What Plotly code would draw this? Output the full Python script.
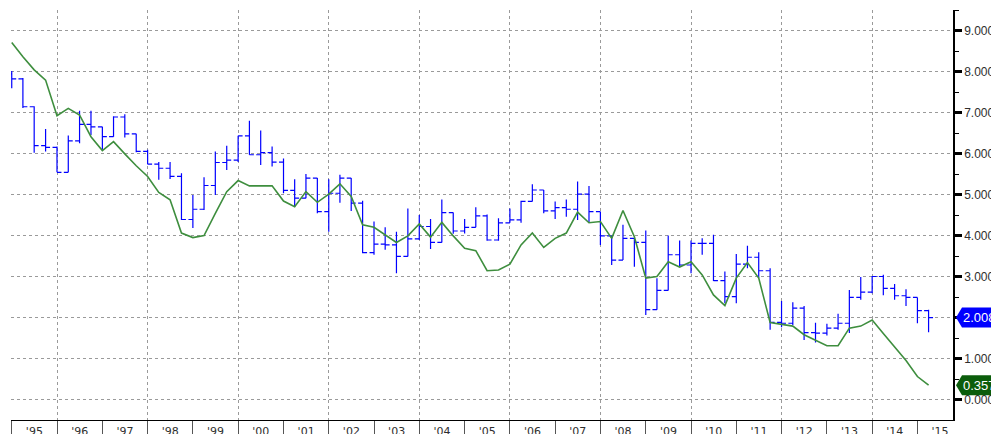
import plotly.graph_objects as go

# ---------------- data ----------------
quarters = [f"{1995 + i // 4}-{3 * (i % 4) + 1:02d}-01" for i in range(82)]

open_ = [7.95, 7.83, 7.15, 6.20, 6.16, 5.55, 6.32, 6.72, 6.66, 6.42,
         6.90, 6.49, 6.06, 5.75, 5.65, 5.45, 4.40, 4.65, 5.23, 5.79,
         5.85, 6.44, 5.98, 6.03, 5.80, 5.11, 4.92, 5.41, 4.59, 5.04,
         5.41, 4.80, 3.59, 3.80, 3.78, 3.50, 3.93, 4.23, 3.84, 4.57,
         4.12, 4.21, 4.49, 3.90, 4.32, 4.39, 4.84, 5.12, 4.61, 4.69,
         4.65, 5.02, 4.59, 4.00, 3.41, 3.94, 3.84, 2.20, 2.67, 3.54,
         3.29, 3.82, 3.82, 2.91, 2.52, 3.31, 3.48, 3.15, 1.89, 1.87,
         2.24, 1.64, 1.63, 1.75, 1.87, 2.50, 2.63, 3.01, 2.72, 2.54,
         2.50, 2.18]
high = [8.02, 7.85, 7.16, 6.61, 6.18, 6.45, 7.05, 7.05, 6.66, 6.92,
        6.97, 6.49, 6.10, 5.80, 5.80, 5.53, 5.00, 5.43, 6.06, 6.20,
        6.44, 6.81, 6.57, 6.18, 5.89, 5.38, 5.51, 5.41, 5.38, 5.49,
        5.41, 4.86, 4.35, 4.21, 4.10, 4.67, 4.51, 4.41, 4.89, 4.57,
        4.41, 4.70, 4.52, 4.43, 4.67, 4.86, 5.26, 5.12, 4.84, 4.89,
        5.33, 5.22, 4.59, 4.00, 4.27, 3.94, 4.13, 2.97, 4.01, 3.89,
        3.89, 3.94, 4.03, 3.13, 3.56, 3.76, 3.60, 3.21, 2.41, 2.38,
        2.29, 1.88, 1.86, 2.10, 2.68, 3.00, 3.02, 3.05, 2.83, 2.70,
        2.50, 2.20]
low = [7.60, 7.12, 6.03, 6.06, 5.55, 5.55, 6.26, 6.46, 6.10, 6.42,
       6.40, 6.04, 5.75, 5.37, 5.39, 4.39, 4.19, 4.63, 5.00, 5.61,
       5.80, 5.98, 5.73, 5.69, 5.04, 4.71, 4.92, 4.55, 4.10, 4.81,
       4.61, 3.58, 3.54, 3.66, 3.09, 3.50, 3.90, 3.68, 3.84, 4.05,
       4.06, 4.21, 3.88, 3.88, 4.32, 4.32, 4.84, 4.55, 4.41, 4.47,
       4.39, 4.32, 3.78, 3.29, 3.41, 3.25, 2.07, 2.20, 2.67, 3.25,
       3.09, 3.54, 2.90, 2.36, 2.36, 3.21, 2.97, 1.71, 1.77, 1.83,
       1.46, 1.40, 1.57, 1.71, 1.63, 2.44, 2.60, 2.55, 2.44, 2.29,
       1.87, 1.65]
close = [7.83, 7.15, 6.20, 6.16, 5.55, 6.32, 6.72, 6.66, 6.42, 6.90,
         6.49, 6.06, 5.75, 5.65, 5.45, 4.40, 4.65, 5.23, 5.79, 5.85,
         6.44, 5.98, 6.03, 5.80, 5.11, 4.92, 5.41, 4.59, 5.04, 5.41,
         4.80, 3.59, 3.80, 3.78, 3.50, 3.93, 4.23, 3.84, 4.57, 4.12,
         4.21, 4.49, 3.90, 4.32, 4.39, 4.84, 5.12, 4.61, 4.69, 4.65,
         5.02, 4.59, 4.00, 3.41, 3.94, 3.84, 2.20, 2.67, 3.54, 3.29,
         3.82, 3.82, 2.91, 2.52, 3.31, 3.48, 3.15, 1.89, 1.87, 2.24,
         1.64, 1.63, 1.75, 1.87, 2.50, 2.63, 3.01, 2.72, 2.54, 2.50,
         2.18, 2.0089]
line_vals = [8.72, 8.37, 8.05, 7.80, 6.93, 7.11, 6.95, 6.42, 6.08, 6.30,
             6.00, 5.71, 5.45, 5.06, 4.88, 4.07, 3.96, 4.01, 4.55, 5.08,
             5.35, 5.22, 5.22, 5.22, 4.85, 4.71, 5.08, 4.82, 5.02, 5.27,
             4.96, 4.27, 4.21, 4.02, 3.84, 4.00, 4.29, 3.97, 4.33, 4.00,
             3.70, 3.64, 3.15, 3.17, 3.31, 3.78, 4.07, 3.72, 3.94, 4.07,
             4.58, 4.32, 4.35, 3.94, 4.62, 3.98, 2.97, 3.01, 3.37, 3.24,
             3.37, 3.05, 2.56, 2.30, 2.97, 3.35, 2.97, 1.89, 1.85, 1.80,
             1.59, 1.45, 1.32, 1.32, 1.75, 1.80, 1.95, 1.62, 1.29, 0.96,
             0.57, 0.3578]

BAR_COLOR = "#0000FF"
LINE_COLOR = "#3E8E3E"
LINE_LABEL_COLOR = "#0B5D0B"
FONT = "DejaVu Sans"
YFONT = "Liberation Sans"
TXT = "#2e2e2e"
GRID = "#9a9a9a"

fig = go.Figure()
fig.add_trace(go.Ohlc(
    x=quarters, open=open_, high=high, low=low, close=close,
    increasing=dict(line=dict(color=BAR_COLOR, width=1.2)),
    decreasing=dict(line=dict(color=BAR_COLOR, width=1.2)),
    tickwidth=0.4, xaxis="x", yaxis="y", showlegend=False, hoverinfo="skip"))
fig.add_trace(go.Scatter(
    x=quarters, y=line_vals, mode="lines",
    line=dict(color=LINE_COLOR, width=1.6),
    xaxis="x2", yaxis="y", showlegend=False, hoverinfo="skip"))

xr = ["1994-12-26", "2015-10-15"]
fig.update_layout(
    width=999, height=426,
    margin=dict(l=3, r=54, t=2, b=14),
    paper_bgcolor="white", plot_bgcolor="white",
    showlegend=False,
    xaxis=dict(type="date", range=xr, tick0="1995-01-01", dtick="M12",
               tickformat="'%y", ticklabelmode="period",
               ticks="outside", ticklen=14, tickwidth=1, tickcolor="#555555",
               ticklabelstandoff=-13,
               showgrid=False, showline=True, linecolor="black", linewidth=1,
               zeroline=False, rangeslider=dict(visible=False),
               tickfont=dict(family=FONT, size=11, color=TXT), automargin=False),
    xaxis2=dict(type="date", range=xr, overlaying="x", anchor="y", side="bottom",
                tick0="1996-01-01", dtick="M24",
                showgrid=True, gridcolor=GRID, griddash="dot", gridwidth=1,
                showticklabels=False, ticks="", showline=False, zeroline=False,
                automargin=False),
    yaxis=dict(side="right", range=[-0.49, 9.51], tick0=0, dtick=1,
               tickformat=".4f", ticks="outside", ticklen=7, tickwidth=2.5,
               tickcolor="black", showline=True, linecolor="black", linewidth=1.5,
               showgrid=True, gridcolor=GRID, griddash="dot", gridwidth=1,
               zeroline=False,
               minor=dict(dtick=0.5, ticks="outside", ticklen=4, tickcolor="black",
                          tickwidth=1, showgrid=False),
               tickfont=dict(family=YFONT, size=12, color=TXT), automargin=False),
)

for val, color in [(close[-1], BAR_COLOR), (line_vals[-1], LINE_LABEL_COLOR)]:
    fig.add_shape(type="path", xref="paper", yref="y",
                  xsizemode="pixel", ysizemode="pixel", xanchor=1, yanchor=val,
                  path="M 3 0 L 9 10 L 80 10 L 80 -10 L 9 -10 Z",
                  fillcolor=color, line=dict(width=0), layer="above")
    fig.add_annotation(xref="paper", yref="y", x=1, y=val, xanchor="left",
                       xshift=8, text=f"{val:.4f}", showarrow=False,
                       font=dict(family=YFONT, size=13, color="white"))

fig.write_html("out.html")
